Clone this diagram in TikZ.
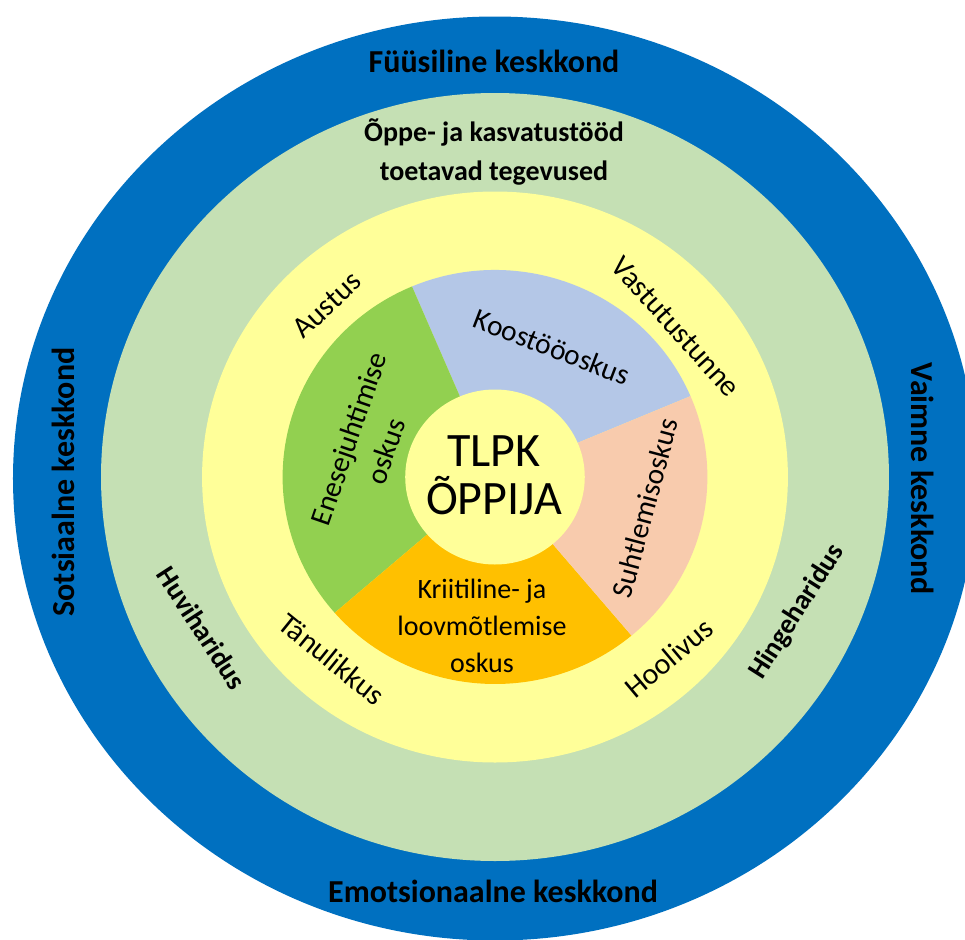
\documentclass[tikz,border=0pt]{standalone}
\usepackage{fontspec}
\setmainfont{Carlito}
\definecolor{keskblue}{HTML}{0070C0}
\definecolor{tegevgreen}{HTML}{C5E0B4}
\definecolor{vaartyellow}{HTML}{FFFF99}
\definecolor{oskgreen}{HTML}{92D050}
\definecolor{oskblue}{HTML}{B4C7E7}
\definecolor{oskpink}{HTML}{F8CBAD}
\definecolor{oskorange}{HTML}{FFC000}

\begin{document}
\begin{tikzpicture}[x=0.5pt, y=0.5pt,
	keskkond/.style={font=\fontsize{16}{19}\selectfont\bfseries},
	tegevus/.style={font=\fontsize{14}{19.5}\selectfont\bfseries, align=center, inner sep=1pt},
	vaartus/.style={font=\fontsize{15}{17}\selectfont, inner sep=1pt},
	oskus/.style={font=\fontsize{14.7}{19.5}\selectfont, align=center, inner sep=1pt}]
	\useasboundingbox (-495,-462) rectangle (470,477);
	\fill[white] (-495,-462) rectangle (470,477);
	\fill[keskblue] (0,-1.5) ellipse [x radius=482, y radius=462];
	\begin{scope}[xscale=1.026]
	\fill[tegevgreen] (0,0) circle (384);
	\fill[vaartyellow] (0,0) circle (285.5);
	\fill[oskblue] (0,0) -- (23:207) arc[start angle=23, end angle=113, radius=207] -- cycle;
	\fill[oskgreen] (0,0) -- (113:207) arc[start angle=113, end angle=221, radius=207] -- cycle;
	\fill[oskorange] (0,0) -- (221:207) arc[start angle=221, end angle=310, radius=207] -- cycle;
	\fill[oskpink] (0,0) -- (-50:207) arc[start angle=-50, end angle=23, radius=207] -- cycle;
	\fill[vaartyellow] (0,0) circle (87.5);
	\end{scope}

	\node[keskkond, anchor=base] (fyysiline) at (-1,405) {Füüsiline keskkond};
	\node[keskkond, anchor=base] (emotsionaalne) at (-2,-425) {Emotsionaalne keskkond};
	\node[keskkond, rotate=90] (sotsiaalne) at (-432,-5) {Sotsiaalne keskkond};
	\node[keskkond, rotate=-90] (vaimne) at (428,-2) {Vaimne keskkond};

	\node[tegevus] (tegevused) at (-1,325) {Õppe- ja kasvatustööd\\toetavad tegevused};
	\node[tegevus, rotate=-57] (huviharidus) at (-293,-151) {Huviharidus};
	\node[tegevus, rotate=57.5] (hingeharidus) at (302,-135) {Hingeharidus};

	\node[vaartus, rotate=43] (austus) at (-168,172) {Austus};
	\node[vaartus, rotate=-48] (vastutus) at (181,150) {Vastutustunne};
	\node[vaartus, rotate=-39] (tanulikkus) at (-163,-182) {Tänulikkus};
	\node[vaartus, rotate=40] (hoolivus) at (174,-181) {Hoolivus};

	\node[oskus, rotate=-21] (koostoo) at (57,130) {Koostööoskus};
	\node[oskus, rotate=71] (enesejuhtimine) at (-128,32) {Enesejuhtimise\\oskus};
	\node[oskus, rotate=75] (suhtlemine) at (150,-31) {Suhtlemisoskus};
	\node[oskus, font=\fontsize{14}{18.5}\selectfont] (kriitiline) at (-13,-149) {Kriitiline- ja\\loovmõtlemise\\oskus};

	\node[font=\fontsize{24}{24}\selectfont, align=center] (oppija) at (-1,2) {TLPK\\ÕPPIJA};
\end{tikzpicture}
\end{document}
